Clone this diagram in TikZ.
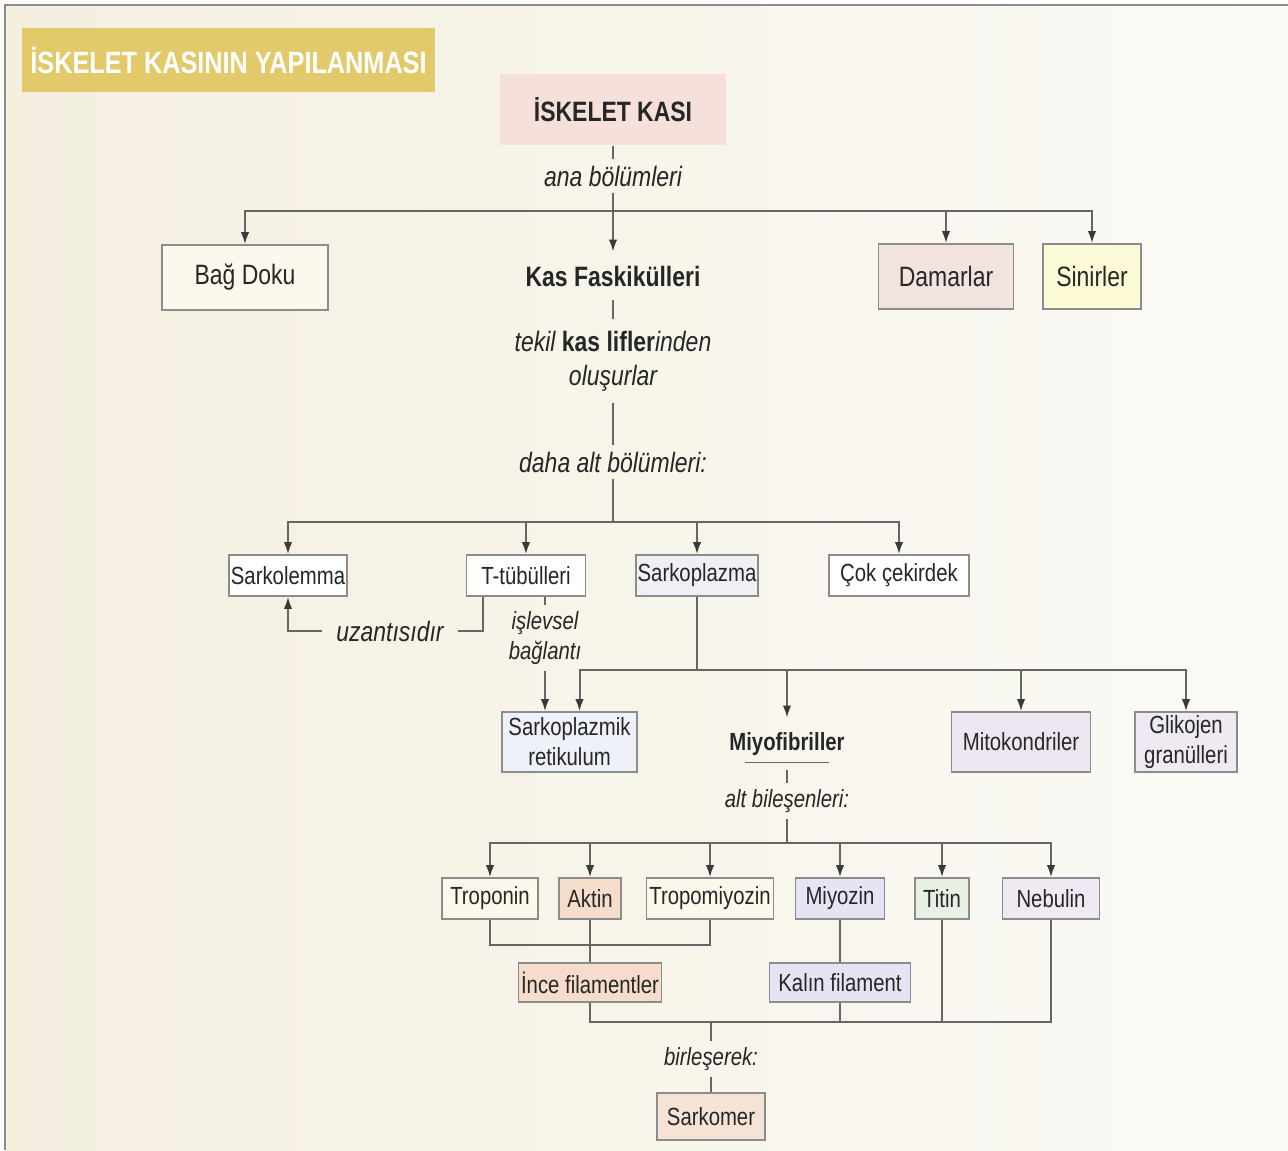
\documentclass[tikz,border=0pt]{standalone}
\usepackage{fontspec}
\setmainfont{Liberation Sans}[FakeStretch=0.82]
\usepackage{tikz}
\usetikzlibrary{arrows.meta,positioning,calc}
\definecolor{ink}{HTML}{262626}
\definecolor{wire}{HTML}{666666}
\definecolor{tip}{HTML}{3A3A3A}
\definecolor{frame}{HTML}{8C8C8C}
\definecolor{paperl}{HTML}{F4EFDF}
\definecolor{paperr}{HTML}{FBFAF6}
\definecolor{gold}{HTML}{E2C96A}
\definecolor{rose}{HTML}{F5E0DC}
\definecolor{cream}{HTML}{FCF8EE}
\definecolor{rosy}{HTML}{F3E3DF}
\definecolor{lemon}{HTML}{FBF9D6}
\definecolor{lavender}{HTML}{EFEFF6}
\definecolor{sky}{HTML}{EEF1F7}
\definecolor{mauve}{HTML}{EDE5F0}
\definecolor{lilac}{HTML}{EEE9F3}
\definecolor{ivory}{HTML}{FDF8EC}
\definecolor{peach}{HTML}{F6DCCB}
\definecolor{violet}{HTML}{E6E4F3}
\definecolor{mint}{HTML}{E6F1E4}
\definecolor{apricot}{HTML}{F5E3D6}
\tikzset{
  box/.style={
    draw=frame,fill=white,line width=.8pt,inner sep=0pt,
    minimum height=20.5pt,align=center,text=ink,
    font=\fontsize{12.4}{15}\selectfont
  },
  bigbox/.style={
    box,minimum height=32.5pt,font=\fontsize{14}{17}\selectfont
  },
  titlebox/.style={
    fill=gold,inner sep=0pt,minimum width=206.5pt,minimum height=32pt,
    text=white,font=\fontsize{15.4}{18}\selectfont\bfseries
  },
  plain/.style={
    inner sep=0pt,text=ink,font=\fontsize{14}{17}\selectfont\bfseries
  },
  note/.style={
    inner sep=3pt,align=center,text=ink,
    font=\fontsize{14}{17}\selectfont\itshape
  },
  smallnote/.style={note,font=\fontsize{12.4}{15}\selectfont\itshape},
  link/.style={draw=wire,line width=1pt},
  arrow/.style={link,-{Latex[length=6pt,width=4.2pt,color=tip]}}
}
\begin{document}
\begin{tikzpicture}[x=0.5pt,y=-0.5pt]
\useasboundingbox (0,0) rectangle (1288,1150);
\fill[white] (0,0) rectangle (1288,1150);
\shade[left color=paperl,right color=paperr] (5,5) rectangle (1288,1150);
\draw[frame,line width=1pt] (5,1150) -- (5,5) -- (1288,5);

\node[titlebox] (title) at (228.5,60) {İSKELET KASININ YAPILANMASI};

\node[bigbox,draw=none,fill=rose,minimum width=113pt,minimum height=35.5pt,
  font=\fontsize{14}{17}\selectfont\bfseries] (iskelet) at (613,109.5) {İSKELET KASI};
\node[note] (ana) at (613,176) {ana bölümleri};
\node[plain,minimum height=24pt] (kas) at (613,276) {Kas Faskikülleri};
\node[bigbox,fill=cream,minimum width=83pt] (bag) at (245,277.5) {Bağ Doku};
\node[bigbox,fill=rosy,minimum width=67.5pt] (damar) at (946,276.5) {Damarlar};
\node[bigbox,fill=lemon,minimum width=49pt] (sinir) at (1092,276.5) {Sinirler};

\coordinate (anabus) at (613,211);
\draw[link] (iskelet) -- (ana);
\draw[arrow] (ana) -- (kas);
\draw[arrow] (anabus) -| (bag);
\draw[arrow] (anabus) -| (damar);
\draw[arrow] (anabus) -| (sinir);

\node[note,inner ysep=6pt] (tekil) at (613,361)
{tekil {\upshape\bfseries kas lifler}inden\\oluşurlar};
\node[note] (daha) at (613,462) {daha alt bölümleri:};
\draw[link] (kas) -- (tekil);
\draw[link] (tekil) -- (daha);

\node[box,minimum width=59pt] (sarkolemma) at (288,575.5) {Sarkolemma};
\node[box,minimum width=59.5pt] (ttubul) at (526,575.5) {T-tübülleri};
\node[box,fill=lavender,minimum width=61pt] (sarkoplazma) at (697,575.5) {Sarkoplazma};
\node[box,minimum width=70pt] (cekirdek) at (899,575.5) {Çok çekirdek};

\coordinate (altbus) at (613,522);
\draw[link] (daha) -- (altbus);
\draw[arrow] (altbus) -| (sarkolemma);
\draw[arrow] (altbus) -| (ttubul);
\draw[arrow] (altbus) -| (sarkoplazma);
\draw[arrow] (altbus) -| (cekirdek);

\node[note,inner xsep=7pt] (uzanti) at (390,631) {uzantısıdır};
\coordinate (uzk) at (483,631);
\draw[link] (ttubul.south -| uzk) -- (uzk) -- (uzanti);
\draw[arrow] (uzanti) -| (sarkolemma);

\node[box,fill=sky,minimum width=67.5pt,minimum height=30pt] (sr) at (569.5,742)
{Sarkoplazmik\\retikulum};
\node[smallnote] (islev) at (545,638) {işlevsel\\bağlantı};
\draw[link] (ttubul.south -| islev) -- (islev);
\draw[arrow] (islev) -- (islev |- sr.north);

\node[plain,minimum height=26pt,font=\fontsize{12.4}{15}\selectfont\bfseries]
(miyo) at (787,744) {Miyofibriller};
\node[box,fill=mauve,minimum width=69.5pt,minimum height=30pt] (mito) at (1021,742)
{Mitokondriler};
\node[box,fill=lilac,minimum width=51pt,minimum height=30pt] (glikojen) at (1186,742)
{Glikojen\\granülleri};

\coordinate (plazbus) at (697,670);
\draw[link] (sarkoplazma) -- (plazbus);
\draw[arrow] (plazbus) -| ([xshift=5pt]sr.north);
\draw[arrow] (plazbus) -| (miyo);
\draw[arrow] (plazbus) -| (mito);
\draw[arrow] (plazbus) -| (glikojen);
\draw[link,line width=.8pt] ([xshift=-21pt,yshift=4pt]miyo.south)
  -- ([xshift=21pt,yshift=4pt]miyo.south);

\node[smallnote] (bilesen) at (787,801) {alt bileşenleri:};
\coordinate (lifbus) at (787,843);
\draw[link] (miyo) -- (bilesen);
\draw[link] (bilesen) -- (lifbus);

\node[box,fill=ivory,minimum width=48pt] (troponin) at (490,898.5) {Troponin};
\node[box,fill=peach,minimum width=31pt] (aktin) at (590,898.5) {Aktin};
\node[box,fill=ivory,minimum width=63.5pt] (tropomiyozin) at (710,898.5) {Tropomiyozin};
\node[box,fill=violet,minimum width=44.5pt] (miyozin) at (840,898.5) {Miyozin};
\node[box,fill=mint,minimum width=27pt] (titin) at (942,898.5) {Titin};
\node[box,fill=lilac,minimum width=48.5pt] (nebulin) at (1051,898.5) {Nebulin};

\draw[arrow] (lifbus) -| (troponin);
\draw[arrow] (lifbus) -| (aktin);
\draw[arrow] (lifbus) -| (tropomiyozin);
\draw[arrow] (lifbus) -| (miyozin);
\draw[arrow] (lifbus) -| (titin);
\draw[arrow] (lifbus) -| (nebulin);

\node[box,fill=peach,minimum width=71.5pt,minimum height=19.5pt] (ince) at (590,982.5)
{İnce filamentler};
\node[box,fill=violet,minimum width=70.5pt,minimum height=19.5pt] (kalin) at (840,982.5)
{Kalın filament};
\coordinate (incebus) at (590,945);
\draw[link] (troponin) |- (incebus) -| (tropomiyozin);
\draw[link] (aktin) -- (ince);
\draw[link] (miyozin) -- (kalin);

\coordinate (sarkbus) at (711,1022);
\draw[link] (ince) |- (sarkbus);
\draw[link] (kalin) |- (sarkbus);
\draw[link] (titin) |- (sarkbus);
\draw[link] (nebulin) |- (sarkbus);

\node[smallnote] (birles) at (711,1059) {birleşerek:};
\node[box,fill=apricot,minimum width=54pt,minimum height=23.5pt] (sarkomer) at (711,1116.5)
{Sarkomer};
\draw[link] (sarkbus) -- (birles);
\draw[link] (birles) -- (sarkomer);
\end{tikzpicture}
\end{document}
